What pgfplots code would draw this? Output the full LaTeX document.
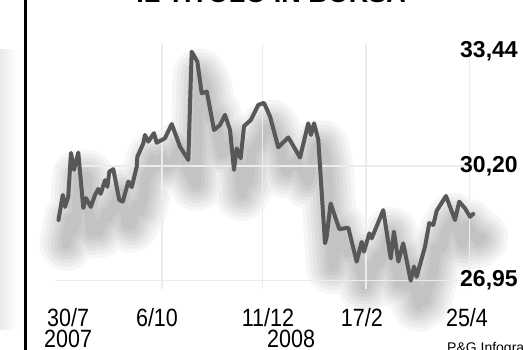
\documentclass[border=0pt]{standalone}
\usepackage{fontspec}
\usepackage{pgfplots}
\usepackage{pgfplotstable}
\pgfplotsset{compat=1.18}
\setmainfont{Liberation Sans}
\newfontfamily\condfont[FakeStretch=0.86]{Liberation Sans}
\definecolor{linegray}{HTML}{585858}
\definecolor{gridc}{HTML}{ECECEC}

\pgfplotstableread{
day val
0.0 28.67
2.8 29.38
4.3 29.04
6.4 29.33
8.2 30.57
10.2 30.09
13.0 30.58
16.3 29.01
18.1 29.29
21.2 29.04
24.0 29.38
26.1 29.55
27.7 29.41
30.6 29.80
32.1 29.61
33.4 30.04
36.0 30.11
39.9 29.24
42.2 29.19
45.9 29.76
48.1 29.60
51.4 30.18
51.8 30.46
55.7 30.84
56.8 31.08
59.0 30.89
62.7 31.13
64.5 30.86
68.9 30.96
70.0 30.99
74.4 31.39
79.8 30.75
85.3 30.37
87.5 33.44
91.2 33.16
94.1 32.26
97.4 32.31
102.2 31.22
106.1 31.36
109.4 31.65
112.7 31.22
115.3 30.09
117.1 30.70
119.7 30.42
121.9 31.33
126.3 31.50
131.3 31.93
135.0 31.99
139.0 31.60
144.4 30.73
151.0 31.01
158.7 30.44
164.1 31.41
165.9 31.08
167.9 31.41
170.7 30.94
175.1 28.01
176.2 28.20
178.8 29.14
184.5 28.41
190.4 28.45
195.9 27.49
199.2 28.05
200.7 27.77
204.2 28.29
205.8 28.15
213.4 28.95
218.3 27.58
220.4 28.34
223.3 27.49
226.5 28.01
231.4 26.95
233.6 27.35
235.3 27.06
240.8 27.91
243.6 28.58
246.3 28.53
248.5 28.93
254.6 29.35
260.5 28.67
263.3 29.19
267.1 29.00
270.4 28.76
272.5 28.84
}\stock

\pgfplotsset{shadow/.style={black, opacity=0.035, line width=#1, line join=round, line cap=round, xshift=8pt, yshift=-24pt, forget plot}}

\begin{document}
\begin{tikzpicture}[x=1pt,y=1pt]
\fill[white] (0,0) rectangle (523,350);
\shade[left color=gray!16, right color=white] (0,20) rectangle (17,300);
\draw[line width=3pt] (25,-5) -- (25,355);
\node[font=\bfseries\fontsize{27}{27}\selectfont, anchor=base] at (271,347.5) {IL TITOLO IN BORSA};
\node[font=\fontsize{14}{14}\selectfont, anchor=north west, inner sep=0pt] at (447,8) {P\&G Infografica};
\begin{axis}[
  at={(55.46pt,60.5pt)}, anchor=south west,
  scale only axis, width=423.1pt, height=247pt,
  xmin=-2, xmax=276, ymin=26.7, ymax=33.7,
  clip=false, axis on top,
  axis line style={draw=none},
  tick style={draw=none}, major tick length=0pt,
  xtick={6.3,64.7,137.6,199.3,268.4},
  xticklabels={{30/7\\2007},{6/10},{11/12},{17/2},{25/4}},
  xticklabel style={font=\condfont\fontsize{25}{21.5}\selectfont, align=center, anchor=north, inner sep=0pt, yshift=-18.5pt},
  ytick={26.95,30.20,33.44},
  yticklabels={{26,95},{30,20},{33,44}},
  yticklabel pos=right,
  yticklabel style={font=\bfseries\fontsize{23}{23}\selectfont, anchor=east, inner sep=0pt, xshift=39.4pt},
]
% soft shadow
\addplot[shadow=54pt] table[x=day,y=val] {\stock};
\addplot[shadow=46pt] table[x=day,y=val] {\stock};
\addplot[shadow=38pt] table[x=day,y=val] {\stock};
\addplot[shadow=31pt] table[x=day,y=val] {\stock};
\addplot[shadow=24pt] table[x=day,y=val] {\stock};
\addplot[shadow=17pt] table[x=day,y=val] {\stock};
\addplot[shadow=10pt] table[x=day,y=val] {\stock};
% faint grid
\draw[gridc, line width=1.5pt] (axis cs:-2,30.20) -- (axis cs:276,30.20);
\draw[gridc, line width=1.5pt] (axis cs:-2,26.95) -- (axis cs:276,26.95);
\foreach \d in {68,134,202,270} {
  \edef\tmp{\noexpand\draw[gridc, line width=1.5pt] (axis cs:\d,26.7) -- (axis cs:\d,33.7);}
  \tmp
}
% main line
\addplot[linegray, line width=4pt, line join=round, line cap=round] table[x=day,y=val] {\stock};
\node[font=\condfont\fontsize{25}{21}\selectfont, anchor=north, inner sep=0pt] at (axis cs:152.8,25.55) {2008};
\end{axis}
\pgfresetboundingbox
\path[use as bounding box] (0,0) rectangle (523,350);
\end{tikzpicture}
\end{document}
